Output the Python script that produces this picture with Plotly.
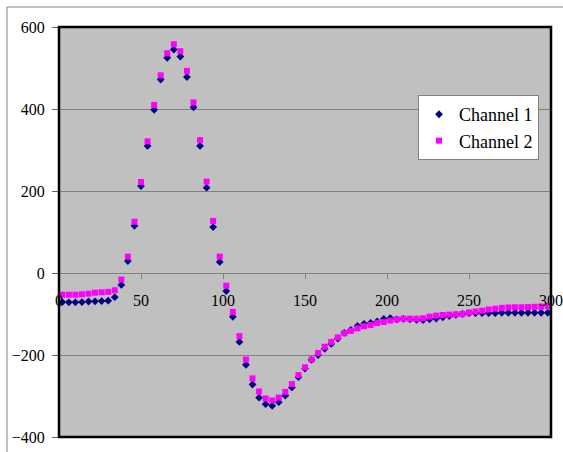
import plotly.graph_objects as go

# sample times (x)
time = [2 + 4 * i for i in range(75)]

channel_1 = [
    -71, -71.5, -71.5, -71, -69.5, -69, -68.5, -67.5, -59, -29,
    29, 115, 212, 310, 398, 472, 525, 545, 528, 478, 404, 310, 208, 112,
    27, -44, -107, -168, -224, -272,
    -304, -320, -324, -315, -299, -279, -254, -233, -212, -200,
    -185, -173, -160, -146, -139, -129, -124, -122, -118,
    -112, -110, -113, -112, -113, -114, -115, -113, -111, -108, -105, -102, -100,
    -98, -98, -98, -98, -98, -97, -97, -97, -97, -97, -97, -97, -97,
]

channel_2 = [
    -53, -53, -53, -52, -50.5, -48, -47, -46, -42, -16,
    40, 125, 222, 321, 410, 482, 536, 558, 541, 493, 416, 324, 223, 127,
    40, -31, -95, -154, -211, -257,
    -289, -306, -311, -304, -290, -271, -249, -230, -211, -195,
    -180, -168, -157, -147, -141, -135, -130, -127, -122,
    -119.5, -116, -113, -111.5, -111.5, -111.5, -110.5, -106.5, -104, -102.5, -101.5, -101, -100,
    -96.5, -94, -92, -89, -87, -85, -84, -83.5, -83.5, -83, -82.5, -82, -81,
]

x_ticks = [0, 50, 100, 150, 200, 250, 300]
y_ticks = [-400, -200, 0, 200, 400, 600]

FONT = "Times New Roman"

fig = go.Figure()
fig.add_trace(go.Scatter(
    x=time, y=channel_1, mode="markers", name="Channel 1",
    legendgroup="c1",
    marker=dict(symbol="diamond", size=6, color="#000080", line=dict(width=0)),
))
fig.add_trace(go.Scatter(
    x=time, y=channel_2, mode="markers", name="Channel 2",
    legendgroup="c2",
    marker=dict(symbol="square", size=6, color="#FF00FF", line=dict(width=0)),
))

fig.update_layout(
    width=563, height=452,
    margin=dict(l=59, r=12, t=27, b=15, autoexpand=False),
    paper_bgcolor="white",
    plot_bgcolor="#C0C0C0",
    font=dict(family=FONT, size=16, color="black"),
    showlegend=True,
    legend=dict(
        x=0.7297, y=0.834, xanchor="left", yanchor="top",
        bgcolor="white", bordercolor="#808080", borderwidth=1,
        font=dict(family=FONT, size=18, color="black"),
        traceorder="grouped", tracegroupgap=0,
    ),
    xaxis=dict(
        range=[0, 300], tickvals=x_ticks,
        anchor="free", position=0.4, automargin=False,
        showline=True, linecolor="#808080", linewidth=1,
        ticks="outside", ticklen=5, tickcolor="#808080", tickwidth=1,
        ticklabelstandoff=8,
        showgrid=False, zeroline=False,
        tickfont=dict(family=FONT, size=16, color="black"),
    ),
    yaxis=dict(
        range=[-400, 600], tickvals=y_ticks, domain=[0, 1], automargin=False,
        showgrid=True, gridcolor="#808080", gridwidth=1,
        zeroline=True, zerolinecolor="#808080", zerolinewidth=1,
        ticks="outside", ticklen=6, tickcolor="#606060", tickwidth=1,
        ticklabelstandoff=4,
        showline=False,
        tickfont=dict(family=FONT, size=16, color="black"),
    ),
    shapes=[
        dict(type="rect", xref="paper", yref="paper", x0=0, x1=1, y0=0, y1=1,
             line=dict(color="black", width=2.5), layer="above"),
        dict(type="line", xref="paper", yref="paper",
             x0=-0.1057, x1=1.05, y0=1.0488, y1=1.0488,
             line=dict(color="#808080", width=1)),
        dict(type="line", xref="paper", yref="paper",
             x0=-0.1057, x1=-0.1057, y0=1.0488, y1=-0.06,
             line=dict(color="#808080", width=1)),
    ],
)

fig.write_html(
    "out.html",
    config={"displayModeBar": False},
    post_script="document.body.style.margin='0';document.body.style.padding='0';document.body.style.overflow='hidden';",
)
